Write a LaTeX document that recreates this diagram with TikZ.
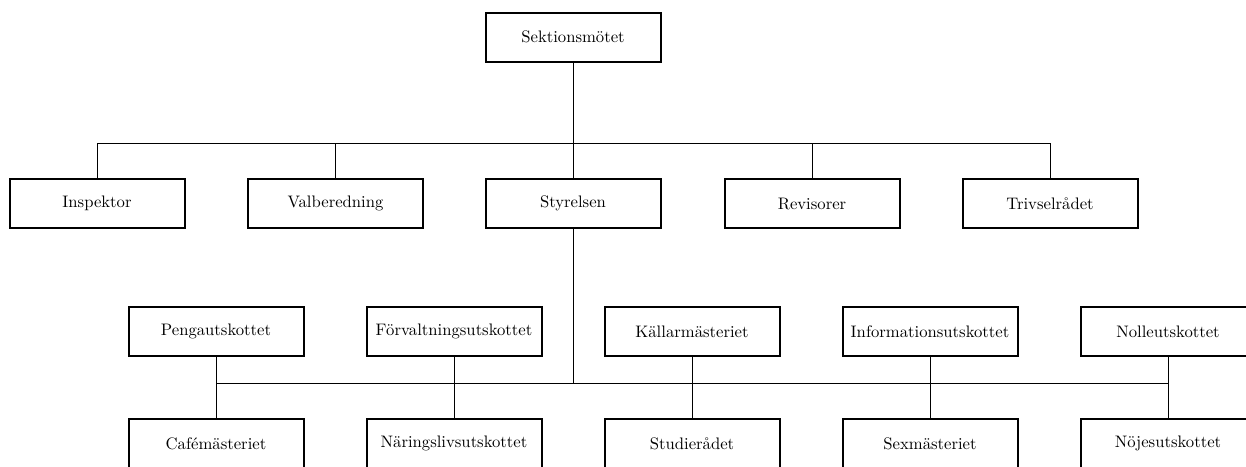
\documentclass[tikz,border=0pt]{standalone}
\usetikzlibrary{positioning}

\begin{document}
\begin{tikzpicture}[x=0.6pt,y=-0.6pt]
\tikzstyle{lien}=[thin]
\tikzset{organ/.style={draw,very thick,minimum width=105pt,minimum height=29.4pt}}
\useasboundingbox (0,0) rectangle (1246,466);
\node [organ] (sekt) at (573,37) {Sektionsmötet};
\node [organ] (insp) at (97,203.5) {Inspektor};
\node [organ] (valb) at (335.5,203.5) {Valberedning};
\node [organ] (styr) at (573,203.5) {Styrelsen};
\node [organ] (revi) at (812,203.5) {Revisorer};
\node [organ] (triv) at (1050,203.5) {Trivselrådet};
\node [organ] (peng) at (216,331.5) {Pengautskottet};
\node [organ] (forv) at (454,331.5) {Förvaltningsutskottet};
\node [organ] (kall) at (692,331.5) {Källarmästeriet};
\node [organ] (info) at (930,331.5) {Informationsutskottet};
\node [organ] (noll) at (1168,331.5) {Nolleutskottet};
\node [organ] (cafe) at (216,443.5) {Cafémästeriet};
\node [organ] (nari) at (454,443.5) {Näringslivsutskottet};
\node [organ] (stud) at (692,443.5) {Studierådet};
\node [organ] (sexm) at (930,443.5) {Sexmästeriet};
\node [organ] (noje) at (1168,443.5) {Nöjesutskottet};
\coordinate (buss1) at (573,143.5);
\coordinate (buss2) at (573,383);
% styrelseniv\aa
\draw [lien] (sekt) -- (styr);
\draw [lien] (insp.north) |- (buss1) -| (triv.north);
\draw [lien] (valb.north) |- (buss1) -| (revi.north);
% utskott
\draw [lien] (styr) -- (buss2);
\draw [lien] (peng.south) |- (buss2) -| (noll.south);
\draw [lien] (peng) -- (cafe);
\draw [lien] (forv) -- (nari);
\draw [lien] (kall) -- (stud);
\draw [lien] (info) -- (sexm);
\draw [lien] (noll) -- (noje);
\end{tikzpicture}
\end{document}
